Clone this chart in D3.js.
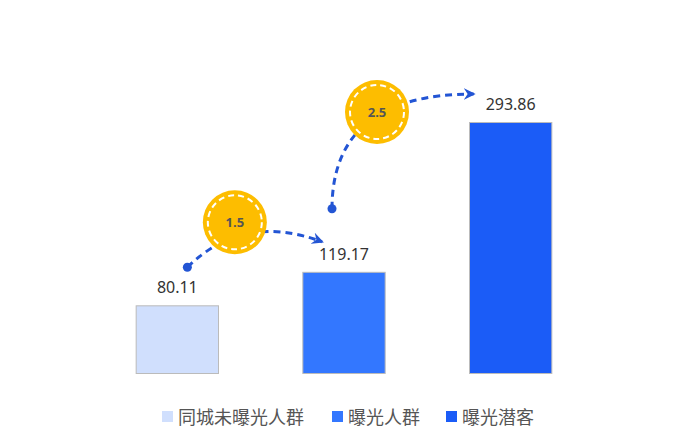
<!DOCTYPE html>
<html>
<head>
<meta charset="utf-8">
<script src="https://cdn.jsdelivr.net/npm/d3@7"></script>
<style>
html,body{margin:0;padding:0;background:#fff;}
svg{display:block;font-family:"Noto Sans CJK SC","Noto Sans",sans-serif;}
</style>
</head>
<body>
<svg id="chart" width="690" height="444"></svg>
<script>
const categories = ["同城未曝光人群", "曝光人群", "曝光潜客"];
const values = [80.11, 119.17, 293.86];
const colors = ["#d0dffd", "#3377ff", "#1b5cf7"];
const ratios = ["1.5", "2.5"];

const W = 690, H = 444;
const svg = d3.select("#chart");

const x = d3.scaleBand().domain(categories).range([94, 594]).paddingInner(0.5).paddingOuter(0.25);
const y = d3.scaleLinear().domain([0, 293.86]).range([374, 122]);

const xc = c => x(c) + x.bandwidth() / 2;

// bars
svg.selectAll("rect.bar").data(categories).join("rect")
  .attr("class", "bar")
  .attr("x", d => x(d) + 0.5)
  .attr("y", (d, i) => y(values[i]) + 0.5)
  .attr("width", x.bandwidth() - 1)
  .attr("height", (d, i) => y(0) - y(values[i]) - 1)
  .attr("fill", (d, i) => colors[i])
  .attr("stroke", "#bbbbbb")
  .attr("stroke-width", 1);

// value labels
svg.selectAll("text.val").data(categories).join("text")
  .attr("class", "val")
  .attr("x", d => xc(d))
  .attr("y", (d, i) => y(values[i]) - 12)
  .attr("text-anchor", "middle")
  .attr("font-family", "'Noto Sans', sans-serif")
  .attr("font-size", 16)
  .attr("fill", "#333")
  .text((d, i) => values[i].toFixed(2));

// arrows
const defs = svg.append("defs");
defs.append("marker")
  .attr("id", "arr")
  .attr("viewBox", "0 0 12 12")
  .attr("refX", 10).attr("refY", 6)
  .attr("markerWidth", 12).attr("markerHeight", 12)
  .attr("markerUnits", "userSpaceOnUse")
  .attr("orient", "auto")
  .append("path")
  .attr("d", "M0,0 L12,6 L0,12 L4,6 Z")
  .attr("fill", "#2355d4");

const lineColor = "#2355d4";
const c0 = xc(categories[0]), c1 = xc(categories[1]), c2 = xc(categories[2]);
const annotations = [
  {
    start: [c0 + 10, y(values[0]) - 38],
    ctrl: [c0 + 66, y(values[0]) - 93],
    end: [c1 - 22, y(values[1]) - 30],
    circle: [c0 + 57.5, y(values[0]) - 83],
    label: ratios[0]
  },
  {
    start: [c1 - 12, y(values[1]) - 63],
    ctrl: [c1 - 12, y(values[2]) - 28],
    end: [c2 - 37, y(values[2]) - 28],
    circle: [c1 + 33, y(values[2]) - 10],
    label: ratios[1]
  }
];

annotations.forEach(a => {
  const p = d3.path();
  p.moveTo(a.start[0], a.start[1]);
  p.quadraticCurveTo(a.ctrl[0], a.ctrl[1], a.end[0], a.end[1]);
  svg.append("path")
    .attr("d", p.toString())
    .attr("fill", "none")
    .attr("stroke", lineColor)
    .attr("stroke-width", 3)
    .attr("stroke-dasharray", "7,5")
    .attr("marker-end", "url(#arr)");
  svg.append("circle")
    .attr("cx", a.start[0]).attr("cy", a.start[1])
    .attr("r", 4.5).attr("fill", lineColor);
  svg.append("circle")
    .attr("cx", a.circle[0]).attr("cy", a.circle[1])
    .attr("r", 32).attr("fill", "#fdbd00");
  svg.append("circle")
    .attr("cx", a.circle[0]).attr("cy", a.circle[1])
    .attr("r", 27).attr("fill", "none")
    .attr("stroke", "#fff").attr("stroke-width", 2)
    .attr("stroke-dasharray", "6,4");
  svg.append("text")
    .attr("x", a.circle[0]).attr("y", a.circle[1] + 4.5)
    .attr("text-anchor", "middle")
    .attr("font-family", "'Noto Sans', sans-serif")
    .attr("font-size", 13).attr("font-weight", "bold")
    .attr("fill", "#555")
    .text(a.label);
});

// legend
const legendX = [162, 332, 446];
const lg = svg.append("g");
categories.forEach((c, i) => {
  lg.append("rect")
    .attr("x", legendX[i]).attr("y", 411)
    .attr("width", 11).attr("height", 11)
    .attr("fill", colors[i]);
  lg.append("text")
    .attr("x", legendX[i] + 16).attr("y", 424)
    .attr("font-size", 18).attr("fill", "#555")
    .text(c);
});
</script>
</body>
</html>
